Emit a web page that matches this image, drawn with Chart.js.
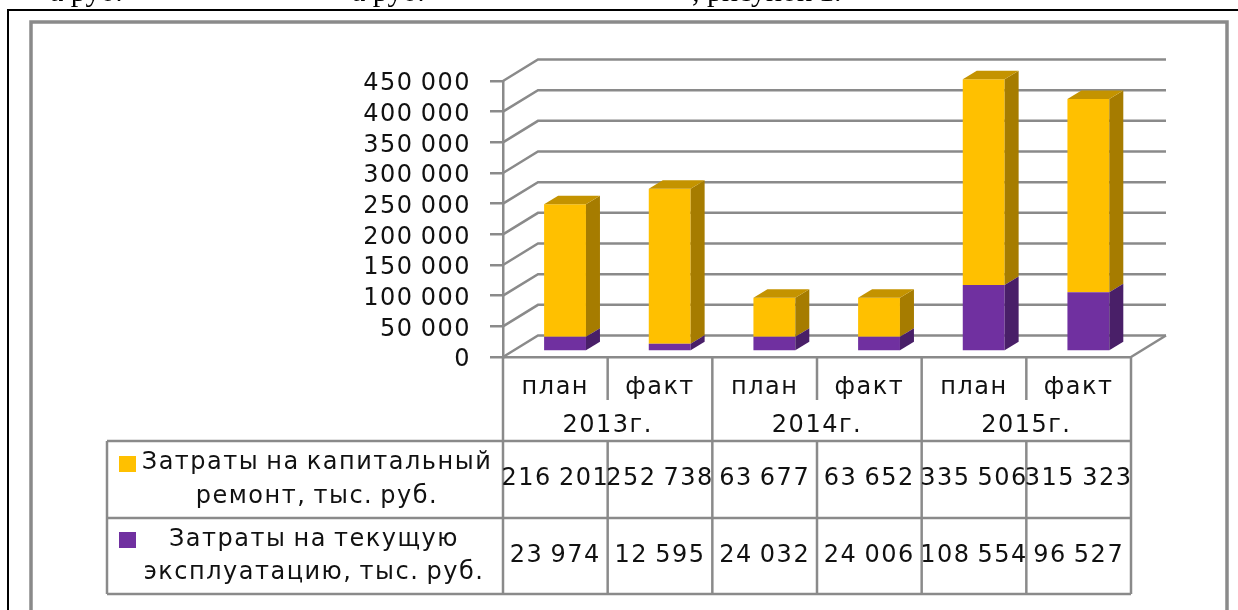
<!DOCTYPE html>
<html>
<head>
<meta charset="utf-8">
<style>
html, body { margin: 0; padding: 0; background: #fff; overflow: hidden; }
canvas { display: block; filter: blur(0.5px); }
</style>
<script src="https://cdn.jsdelivr.net/npm/chart.js@4"></script>
</head>
<body>
<canvas id="costChart" width="1238" height="610"></canvas>
<script>
const categories = ['план', 'факт', 'план', 'факт', 'план', 'факт'];
const years = ['2013г.', '2014г.', '2015г.'];
const maintenance = [23974, 12595, 24032, 24006, 108554, 96527];
const capitalRepair = [216201, 252738, 63677, 63652, 335506, 315323];
const capitalLabel = ['Затраты на капитальный', 'ремонт, тыс. руб.'];
const maintenanceLabel = ['Затраты на текущую', 'эксплуатацию, тыс. руб.'];

const yellow = '#FFC000', yellowSide = '#A67C00', yellowTop = '#C49300';
const purple = '#7030A0', purpleSide = '#491F68', purpleTop = '#5A2680';
const lineColor = '#8a8a8a', textColor = '#111';
const font = '24px "DejaVu Sans"';
const spacing = '1.5px', wordGap = '-2px';

const backX = 35, backY = -21.5;   // back wall offset
const barX = 9.7, barY = -5.5;     // bars stand a bit inside the floor
const sideX = 14, sideY = -8.5;    // depth of a bar

const fmt = v => String(v).replace(/\B(?=(\d{3})+$)/g, ' ');

function line(ctx, pts) {
    ctx.beginPath();
    pts.forEach((p, i) => i ? ctx.lineTo(p[0], p[1]) : ctx.moveTo(p[0], p[1]));
    ctx.stroke();
}
function face(ctx, pts, color) {
    ctx.fillStyle = color;
    ctx.beginPath();
    pts.forEach((p, i) => i ? ctx.lineTo(p[0], p[1]) : ctx.moveTo(p[0], p[1]));
    ctx.closePath();
    ctx.fill();
}

const box3d = {
    id: 'box3d',
    afterLayout(chart) {
        // value labels sit a little lower than their tick marks
        const y = chart.scales.y;
        if (y.labelsShifted) return;
        const drawLabels = y.drawLabels;
        y.drawLabels = function (area) {
            chart.ctx.save();
            chart.ctx.translate(0, 3);
            drawLabels.call(this, area);
            chart.ctx.restore();
        };
        y.labelsShifted = true;
    },
    beforeDraw(chart) {
        const ctx = chart.ctx;
        ctx.letterSpacing = spacing;
        ctx.wordSpacing = wordGap;
    },
    beforeDatasetsDraw(chart) {
        const ctx = chart.ctx, y = chart.scales.y, a = chart.chartArea;
        ctx.save();
        ctx.strokeStyle = lineColor;
        ctx.lineWidth = 2.5;
        y.ticks.forEach(t => {
            const py = y.getPixelForValue(t.value);
            line(ctx, [[a.left, py], [a.left + backX, py + backY], [a.right + backX, py + backY]]);
        });
        const y0 = y.getPixelForValue(0);
        line(ctx, [[a.right, y0], [a.right + backX, y0 + backY]]);
        ctx.restore();
        ctx.save();
        ctx.translate(barX, barY);
    },
    afterDatasetDraw(chart, args) {
        const ctx = chart.ctx;
        const top = args.index === chart.data.datasets.length - 1;
        const side = args.index === 0 ? purpleSide : yellowSide;
        const cap = args.index === 0 ? purpleTop : yellowTop;
        args.meta.data.forEach(bar => {
            const r = bar.x + bar.width / 2, l = bar.x - bar.width / 2;
            face(ctx, [[r, bar.y], [r + sideX, bar.y + sideY], [r + sideX, bar.base + sideY], [r, bar.base]], side);
            if (top) face(ctx, [[l, bar.y], [l + sideX, bar.y + sideY], [r + sideX, bar.y + sideY], [r, bar.y]], cap);
        });
    },
    afterDatasetsDraw(chart) {
        chart.ctx.restore();
    },
    afterDraw(chart) {
        const ctx = chart.ctx, x = chart.scales.x, a = chart.chartArea;
        const step = (a.right - a.left) / categories.length;
        const rows = [357, 400, 441, 518, 594];
        ctx.save();

        // page frames
        ctx.strokeStyle = '#000';
        ctx.lineWidth = 2;
        line(ctx, [[8, 610], [8, 10], [1238, 10]]);
        ctx.strokeStyle = lineColor;
        ctx.lineWidth = 3.5;
        line(ctx, [[31, 610], [31, 22], [1227, 22], [1227, 610]]);

        // data table grid
        ctx.strokeStyle = lineColor;
        ctx.lineWidth = 2.5;
        categories.concat('').forEach((c, i) => {
            const px = a.left + step * i;
            const yearEdge = i % 2 === 0;
            line(ctx, [[px, rows[0]], [px, yearEdge ? rows[2] : rows[1]]]);
            line(ctx, [[px, rows[2]], [px, rows[4]]]);
        });
        [rows[2], rows[3], rows[4]].forEach(ry => line(ctx, [[107, ry], [a.right, ry]]));
        line(ctx, [[107, rows[2]], [107, rows[4]]]);

        // table text
        ctx.fillStyle = textColor;
        ctx.font = font;
        ctx.textAlign = 'center';
        ctx.textBaseline = 'middle';
        years.forEach((yr, i) => ctx.fillText(yr, a.left + step * (2 * i + 1), 426));
        categories.forEach((c, i) => {
            const cx = x.getPixelForTick(i);
            ctx.fillText(fmt(capitalRepair[i]), cx, 479);
            ctx.fillText(fmt(maintenance[i]), cx, 556);
        });
        ctx.fillText(capitalLabel[0], 317, 463);
        ctx.fillText(capitalLabel[1], 317, 497);
        ctx.fillText(maintenanceLabel[0], 314, 540);
        ctx.fillText(maintenanceLabel[1], 314, 573);

        ctx.fillStyle = yellow;
        ctx.fillRect(119, 456, 17, 16);
        ctx.fillStyle = purple;
        ctx.fillRect(119, 532, 17, 16);

        // end of the document line cut by the crop
        ctx.letterSpacing = '0px';
        ctx.wordSpacing = '0px';
        ctx.fillStyle = '#000';
        ctx.font = '30px "Liberation Serif"';
        ctx.textAlign = 'left';
        ctx.textBaseline = 'alphabetic';
        ctx.fillText('а руб.', 50, 1);
        ctx.fillText('а руб.', 352, 1);
        ctx.fillText(', рисунок 1.', 692, 1);
        ctx.restore();
    }
};

new Chart(document.getElementById('costChart'), {
    type: 'bar',
    data: {
        labels: categories,
        datasets: [
            { label: maintenanceLabel.join(' '), data: maintenance, backgroundColor: purple, clip: false },
            { label: capitalLabel.join(' '), data: capitalRepair, backgroundColor: yellow, clip: false }
        ]
    },
    options: {
        responsive: false,
        animation: false,
        layout: { padding: { top: 81, right: 107, left: 0, bottom: 0 } },
        plugins: { legend: { display: false }, title: { display: false }, tooltip: { enabled: false } },
        datasets: { bar: { categoryPercentage: 1, barPercentage: 0.4 } },
        scales: {
            x: {
                stacked: true,
                afterFit: s => { s.height = 253; },
                grid: { display: false, drawTicks: false },
                border: { color: lineColor, width: 2.5 },
                ticks: {
                    color: textColor, padding: 16, maxRotation: 0, autoSkip: false,
                    font: { family: 'DejaVu Sans', size: 24 }
                }
            },
            y: {
                stacked: true,
                min: 0,
                max: 450000,
                afterFit: s => { s.width = 503; },
                grid: { drawOnChartArea: false, color: lineColor, lineWidth: 2.5, tickLength: 13 },
                border: { color: lineColor, width: 2.5 },
                ticks: {
                    stepSize: 50000, color: textColor, padding: 19, autoSkip: false,
                    font: { family: 'DejaVu Sans', size: 24 },
                    callback: v => fmt(v)
                }
            }
        }
    },
    plugins: [box3d]
});
</script>
</body>
</html>
